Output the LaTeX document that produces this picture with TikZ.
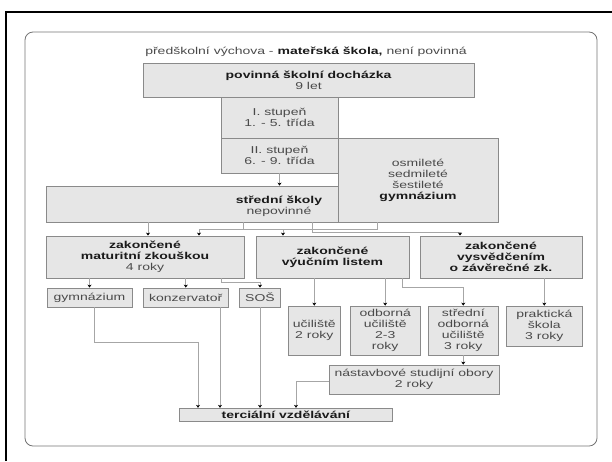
\documentclass[tikz,border=0pt]{standalone}
\usepackage{fontspec}
\setmainfont{Liberation Sans}[FakeStretch=1.4]
\usetikzlibrary{arrows.meta}
\definecolor{boxfill}{HTML}{E6E6E6}
\definecolor{boxedge}{HTML}{8A8A8A}
\definecolor{wirecol}{HTML}{A6A6A6}
\definecolor{lighttext}{HTML}{4A4A4A}
\definecolor{darktext}{HTML}{1A1A1A}
\newcommand{\bt}[1]{{\bfseries\color{darktext}#1}}
\begin{document}
\begin{tikzpicture}[x=1pt,y=-1pt,
  every node/.style={font=\fontsize{10}{11}\selectfont,text=lighttext,align=center},
  box/.style={draw=boxedge,fill=boxfill,line width=0.8pt,inner sep=0pt},
  wire/.style={draw=wirecol,line width=0.8pt},
  arrow/.style={wire,-{Stealth[length=3pt,width=4pt,black]}}]
  \useasboundingbox (0,0) rectangle (612,461);
  \draw[line width=2pt] (6,461) -- (6,12) -- (612,12);
  \draw[draw=black!55,line width=0.8pt,rounded corners=8pt] (25,32) rectangle (597,446);
  \node (title) at (306,52) {předškolní výchova - \bt{mateřská škola,} není povinná};
  \node[box,minimum width=331,minimum height=34] (povinna) at (308.5,80) {\bt{povinná školní docházka}\\9 let};
  \node[box,minimum width=117,minimum height=41] (stupen1) at (279.5,117.5) {I. stupeň\\1. - 5. třída};
  \node[box,minimum width=117,minimum height=35] (stupen2) at (279.5,155.5) {II. stupeň\\6. - 9. třída};
  \node[box,minimum width=294,minimum height=36] (stredni) at (193,204) {};
  \node (strednitext) at (279,206) {\bt{střední školy}\\nepovinné};
  \node[box,minimum width=160,minimum height=84] (gymn) at (418,180) {osmileté\\sedmileté\\šestileté\\\bt{gymnázium}};
  \node[box,minimum width=198,minimum height=42] (matur) at (145,257) {\bt{zakončené}\\\bt{maturitní zkouškou}\\4 roky};
  \node[box,minimum width=153,minimum height=42] (vyucni) at (332.5,257) {\bt{zakončené}\\\bt{výučním listem}};
  \node[box,minimum width=162,minimum height=42] (vysved) at (501,257) {\bt{zakončené}\\\bt{vysvědčením}\\\bt{o závěrečné zk.}};
  \node[box,minimum width=85,minimum height=19] (gymsm) at (89.5,297.5) {gymnázium};
  \node[box,minimum width=85.5,minimum height=19] (konz) at (185.75,297.5) {konzervatoř};
  \node[box,minimum width=41,minimum height=19] (sos) at (260,297.5) {SOŠ};
  \node[box,minimum width=52.6,minimum height=49] (uciliste) at (314.3,330.5) {učiliště\\2 roky};
  \node[box,minimum width=69.6,minimum height=49] (odborna) at (385.2,330.5) {odborná\\učiliště\\2-3\\roky};
  \node[box,minimum width=69.5,minimum height=49] (stredodb) at (463.25,330.5) {střední\\odborná\\učiliště\\3 roky};
  \node[box,minimum width=75.4,minimum height=40] (prakt) at (544.3,326) {praktická\\škola\\3 roky};
  \node[box,minimum width=170,minimum height=29] (nastav) at (414,379.5) {nástavbové studijní obory\\2 roky};
  \node[box,minimum width=213.6,minimum height=13] (terc) at (285.8,414.7) {\bt{terciální vzdělávání}};
  \coordinate (s1) at (148,229);
  \coordinate (s2) at (199,229);
  \coordinate (s3) at (243,229);
  \coordinate (s4) at (283,229);
  \coordinate (s5) at (377,229);
  \coordinate (s6) at (312,232);
  \coordinate (s7) at (460,232);
  \coordinate (t1) at (221,282);
  \coordinate (u1) at (402,287);
  \coordinate (v1) at (296,381);
  \coordinate (w0) at (94,342);
  \coordinate (w1) at (198,342);
  \coordinate (k1) at (220,0);
  \draw[arrow] (stupen2.south) -- (stredni.north -| stupen2.south);
  \draw[arrow] (stredni.south -| s1) -- (matur.north -| s1);
  \draw[wire] (stredni.south -| s3) -- (s3);
  \draw[wire] (gymn.south -| s5) -- (s5) -- (s2);
  \draw[arrow] (s2) -- (matur.north -| s2);
  \draw[arrow] (s4) -- (vyucni.north -| s4);
  \draw[arrow] (stredni.south -| s6) -- (s6) -- (s7) -- (vysved.north -| s7);
  \draw[arrow] (matur.south -| gymsm) -- (gymsm.north);
  \draw[arrow] (matur.south -| konz) -- (konz.north);
  \draw[arrow] (matur.south -| t1) -- (t1) -| (sos.north);
  \draw[arrow] (vyucni.south -| uciliste) -- (uciliste.north);
  \draw[arrow] (vyucni.south -| odborna) -- (odborna.north);
  \draw[arrow] (vyucni.south -| u1) -- (u1) -| (stredodb.north);
  \draw[arrow] (vysved.south -| prakt) -- (prakt.north);
  \draw[arrow] (stredodb.south) -- (nastav.north -| stredodb.south);
  \draw[arrow] (nastav.west |- v1) -- (v1) -- (terc.north -| v1);
  \draw[arrow] (gymsm.south -| w0) -- (w0) -- (w1) -- (terc.north -| w1);
  \draw[arrow] (konz.south -| k1) -- (terc.north -| k1);
  \draw[arrow] (sos.south) -- (terc.north -| sos.south);
\end{tikzpicture}
\end{document}
